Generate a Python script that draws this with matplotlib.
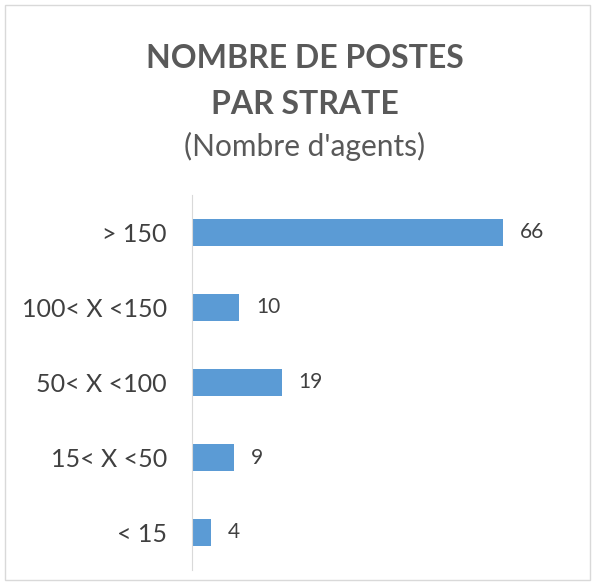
import matplotlib
matplotlib.use("Agg")
import matplotlib.pyplot as plt
from matplotlib.patches import Rectangle

categories = ["> 150", "100< X <150", "50< X <100", "15< X <50", "< 15"]
values = [66, 10, 19, 9, 4]
title_lines = ["NOMBRE DE POSTES", "PAR STRATE"]
subtitle = "(Nombre d'agents)"

plt.rcParams['font.family'] = ['Lato', 'DejaVu Sans']

fig = plt.figure(figsize=(5.95, 5.85), dpi=100)
fig.patch.set_facecolor("white")
fig.patches.append(Rectangle((5/595, 5/585), 585/595, 575/585, transform=fig.transFigure,
                             fill=False, edgecolor="#D9D9D9", linewidth=1))

ax = fig.add_axes([192/595, 15/585, 377/595, 375/585])
ypos = list(range(len(categories)))
bars = ax.barh(ypos, values, height=0.35, color="#5B9BD5")
ax.set_ylim(len(categories) - 0.5, -0.5)
ax.set_xlim(0, 80)
ax.set_yticks(ypos)
ax.set_yticklabels(categories, fontsize=18, color="#404040")
ax.tick_params(axis="y", length=0, pad=18)
ax.set_xticks([])
for s in ["top", "right", "bottom"]:
    ax.spines[s].set_visible(False)
ax.spines["left"].set_color("#D9D9D9")
for y, v in zip(ypos, values):
    ax.annotate(str(v), (v, y), xytext=(12, 0), textcoords="offset points",
                va="center", ha="left", fontsize=15, color="#404040")

fig.text(305/595, 1 - 58/585, title_lines[0], ha="center", va="center",
         fontsize=23, fontweight="bold", color="#595959")
fig.text(305/595, 1 - 104/585, title_lines[1], ha="center", va="center",
         fontsize=23, fontweight="bold", color="#595959")
fig.text(305/595, 1 - 146/585, subtitle, ha="center", va="center",
         fontsize=21.5, color="#595959")

fig.savefig("out.png", dpi=100)
